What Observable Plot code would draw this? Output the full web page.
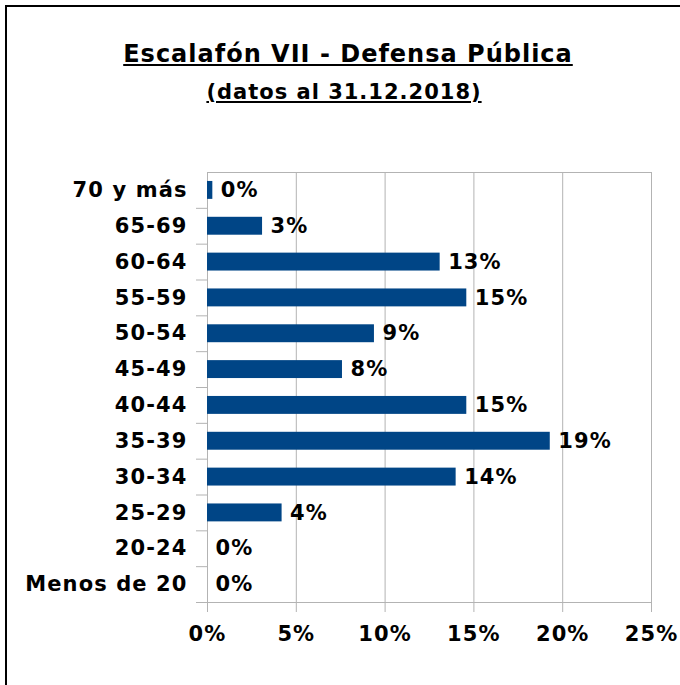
<!DOCTYPE html>
<html>
<head>
<meta charset="utf-8">
<script src="https://cdn.jsdelivr.net/npm/d3@7"></script>
<script src="https://cdn.jsdelivr.net/npm/@observablehq/plot@0.6"></script>
<style>
  html, body { margin: 0; padding: 0; background: #fff; }
  body { width: 680px; height: 685px; overflow: hidden; position: relative; font-family: "DejaVu Sans", Verdana, sans-serif; }
  #frame { position: absolute; left: 5px; top: 5px; width: 900px; height: 900px; border-left: 2px solid #000; border-top: 2px solid #000; }
  .title { position: absolute; left: 8px; width: 680px; text-align: center; font-weight: bold; color: #000; line-height: 1; white-space: nowrap; }
  #t1 { top: 42px; font-size: 24px; letter-spacing: 1px; text-decoration: underline; text-underline-offset: 2px; text-decoration-thickness: 2px; }
  #t2 { top: 82px; left: 4px; font-size: 21px; letter-spacing: 1px; text-decoration: underline; text-underline-offset: 2px; text-decoration-thickness: 2px; }
  #chart { position: absolute; left: 0; top: 150px; }
</style>
</head>
<body>
<div id="frame"></div>
<div class="title" id="t1">Escalafón VII - Defensa Pública</div>
<div class="title" id="t2">(datos al 31.12.2018)</div>
<div id="chart"></div>
<script>
const categories = ["70 y más", "65-69", "60-64", "55-59", "50-54", "45-49", "40-44", "35-39", "30-34", "25-29", "20-24", "Menos de 20"];
const values = [0.3, 3.1, 13.1, 14.6, 9.4, 7.6, 14.6, 19.3, 14.0, 4.2, 0, 0];
const xTicks = [0, 5, 10, 15, 20, 25];

const data = categories.map((c, i) => ({age: c, pct: values[i]}));
const fmt = v => Math.round(v) + "%";

const plot = Plot.plot({
  width: 680,
  height: 502,
  marginTop: 22,
  marginBottom: 50,
  marginLeft: 207,
  marginRight: 29,
  style: {
    fontFamily: "'DejaVu Sans', Verdana, sans-serif",
    fontSize: "21px",
    fontWeight: "bold",
    letterSpacing: "1.1px",
    color: "#000",
    background: "transparent",
    overflow: "visible"
  },
  x: {domain: [0, 25], ticks: xTicks, tickFormat: d => d + "%"},
  y: {domain: categories, paddingInner: 0.5, paddingOuter: 0.25, align: 0.5, round: false},
  marks: [
    Plot.gridX(xTicks, {stroke: "#b3b3b3", strokeOpacity: 1}),
    Plot.frame({stroke: "#b3b3b3"}),
    Plot.axisX({ticks: xTicks, tickFormat: d => d + "%", tickSize: 10, tickPadding: 14, stroke: "#b3b3b3", fill: "#000", label: null}),
    Plot.axisY({tickSize: 11, dy: 17.92, tickFormat: () => "", stroke: "#b3b3b3", label: null}),
    Plot.axisY({tickSize: 0, tickPadding: 20, fill: "#000", label: null}),
    Plot.barX(data, {y: "age", x: "pct", fill: "#004586"}),
    Plot.text(data, {y: "age", x: "pct", text: d => fmt(d.pct), textAnchor: "start", dx: 8, fill: "#000"})
  ]
});
document.getElementById("chart").appendChild(plot);
</script>
</body>
</html>
